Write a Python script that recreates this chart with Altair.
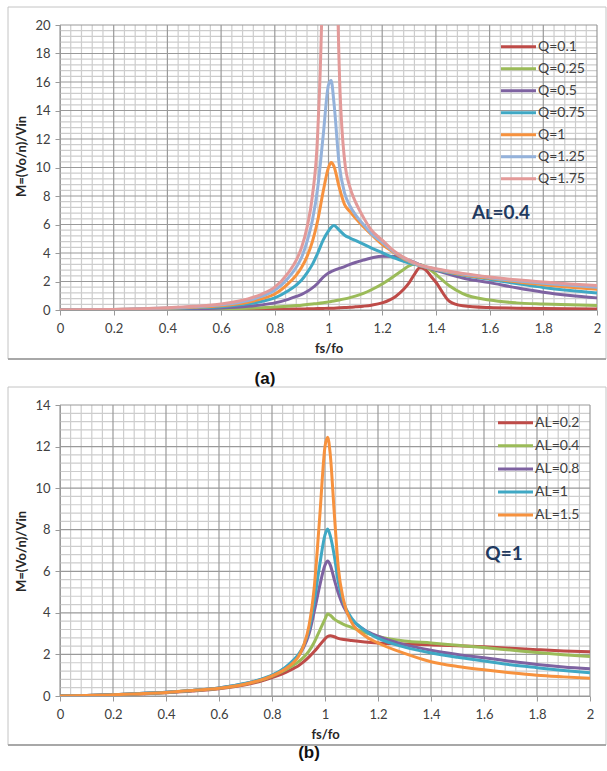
import altair as alt
import pandas as pd

# ---------------- panel (a): AL = 0.4, several Q ----------------
fa = [0, 0.1, 0.2, 0.3, 0.4, 0.5, 0.6, 0.7, 0.75, 0.8, 0.85, 0.88, 0.9, 0.92, 0.94,
      0.96, 0.98, 1.0, 1.01, 1.02, 1.04, 1.06, 1.08, 1.1, 1.13, 1.16, 1.2, 1.25,
      1.28, 1.3, 1.32, 1.34, 1.36, 1.38, 1.4, 1.45, 1.5, 1.6, 1.7, 1.8, 1.9, 2.0]

q_labels = ["Q=0.1", "Q=0.25", "Q=0.5", "Q=0.75", "Q=1", "Q=1.25", "Q=1.75"]
q_colors = ["#BE4B48", "#9BBB59", "#7E62A1", "#3FA8C4", "#F7923E", "#94B2DB", "#E39A99"]

m_q010 = [0, 0, 0, 0.01, 0.01, 0.02, 0.02, 0.03, 0.04, 0.05, 0.06, 0.07, 0.07, 0.08, 0.09,
          0.1, 0.11, 0.12, 0.12, 0.13, 0.15, 0.17, 0.19, 0.22, 0.27, 0.34, 0.5, 0.95,
          1.45, 1.9, 2.5, 2.97, 2.85, 2.4, 1.95, 0.62, 0.3, 0.17, 0.13, 0.1, 0.08, 0.07]
m_q025 = [0, 0, 0.005, 0.01, 0.02, 0.04, 0.07, 0.12, 0.16, 0.21, 0.27, 0.31, 0.34, 0.38, 0.42,
          0.46, 0.51, 0.57, 0.6, 0.63, 0.7, 0.78, 0.87, 0.97, 1.17, 1.42, 1.82, 2.45,
          2.85, 3.1, 3.22, 3.2, 3.05, 2.8, 2.5, 1.7, 1.15, 0.7, 0.5, 0.42, 0.36, 0.32]
m_q050 = [0, 0.003, 0.01, 0.03, 0.05, 0.08, 0.14, 0.26, 0.36, 0.5, 0.75, 0.95, 1.1, 1.3, 1.55,
          1.88, 2.3, 2.6, 2.7, 2.78, 2.92, 3.05, 3.2, 3.33, 3.5, 3.65, 3.78, 3.76,
          3.62, 3.5, 3.35, 3.18, 3.02, 2.9, 2.78, 2.5, 2.25, 1.92, 1.56, 1.25, 1.02, 0.85]
m_q075 = [0, 0.005, 0.02, 0.05, 0.09, 0.15, 0.23, 0.43, 0.6, 0.85, 1.35, 1.75, 2.1, 2.6, 3.2,
          4.0, 4.9, 5.55, 5.8, 5.93, 5.6, 5.25, 5.05, 4.88, 4.62, 4.35, 4.02, 3.62,
          3.42, 3.3, 3.2, 3.1, 3.0, 2.92, 2.83, 2.62, 2.44, 2.15, 1.86, 1.58, 1.37, 1.2]
m_q100 = [0, 0.01, 0.03, 0.07, 0.12, 0.19, 0.3, 0.55, 0.78, 1.12, 1.85, 2.45, 3.0, 3.75, 4.8,
          6.3, 8.3, 10.0, 10.35, 10.1, 8.6, 7.4, 6.9, 6.45, 5.85, 5.3, 4.6, 3.95,
          3.6, 3.42, 3.25, 3.12, 3.02, 2.93, 2.85, 2.65, 2.48, 2.22, 1.98, 1.77, 1.6, 1.45]
m_q125 = [0, 0.01, 0.035, 0.08, 0.14, 0.23, 0.36, 0.66, 0.95, 1.38, 2.25, 3.0, 3.7, 4.8, 6.3,
          8.6, 12.2, 15.8, 16.1, 14.6, 10.2, 8.2, 7.3, 6.7, 6.0, 5.35, 4.75, 4.0,
          3.65, 3.45, 3.28, 3.14, 3.04, 2.95, 2.87, 2.68, 2.52, 2.27, 2.06, 1.88, 1.73, 1.6]
m_q175 = [0, 0.01, 0.04, 0.09, 0.16, 0.26, 0.42, 0.78, 1.1, 1.6, 2.6, 3.5, 4.4, 5.8, 8.0,
          12.5, 26.0, 90.0, 90.0, 45.0, 17.0, 10.5, 8.6, 7.6, 6.5, 5.6, 4.9, 4.05,
          3.7, 3.5, 3.32, 3.17, 3.06, 2.98, 2.9, 2.72, 2.57, 2.32, 2.12, 1.96, 1.83, 1.72]

series_a = [m_q010, m_q025, m_q050, m_q075, m_q100, m_q125, m_q175]

# ---------------- panel (b): Q = 1, several AL ----------------
fb = [0, 0.1, 0.2, 0.3, 0.4, 0.5, 0.6, 0.7, 0.75, 0.8, 0.85, 0.88, 0.9, 0.92, 0.94, 0.96,
      0.98, 1.0, 1.01, 1.02, 1.035, 1.05, 1.07, 1.1, 1.15, 1.2, 1.3, 1.4, 1.5, 1.6,
      1.7, 1.8, 1.9, 2.0]

al_labels = ["AL=0.2", "AL=0.4", "AL=0.8", "AL=1", "AL=1.5"]
al_colors = ["#BE4B48", "#9BBB59", "#7E62A1", "#3FA8C4", "#F7923E"]

m_al02 = [0, 0.02, 0.06, 0.1, 0.16, 0.24, 0.35, 0.54, 0.68, 0.88, 1.13, 1.32, 1.46, 1.65, 1.88,
          2.15, 2.45, 2.75, 2.86, 2.9, 2.85, 2.77, 2.72, 2.67, 2.6, 2.55, 2.5, 2.46,
          2.42, 2.37, 2.3, 2.23, 2.17, 2.13]
m_al04 = [0, 0.02, 0.06, 0.11, 0.17, 0.26, 0.37, 0.58, 0.73, 0.95, 1.25, 1.48, 1.65, 1.87, 2.17,
          2.6, 3.15, 3.7, 3.94, 3.88, 3.7, 3.58, 3.45, 3.3, 3.05, 2.87, 2.65, 2.55,
          2.44, 2.33, 2.21, 2.09, 1.99, 1.9]
m_al08 = [0, 0.02, 0.06, 0.12, 0.18, 0.27, 0.39, 0.6, 0.76, 0.98, 1.35, 1.67, 1.95, 2.35, 3.0,
          4.1, 5.3, 6.3, 6.5, 6.3, 5.6, 4.95, 4.3, 3.7, 3.18, 2.88, 2.47, 2.2,
          2.0, 1.84, 1.67, 1.52, 1.4, 1.31]
m_al10 = [0, 0.02, 0.06, 0.12, 0.18, 0.27, 0.39, 0.61, 0.77, 1.0, 1.38, 1.72, 2.0, 2.45, 3.2,
          4.6, 6.3, 7.75, 8.03, 7.7, 6.75, 5.5, 4.5, 3.75, 3.15, 2.78, 2.35, 2.07,
          1.86, 1.68, 1.5, 1.36, 1.23, 1.12]
m_al15 = [0, 0.02, 0.06, 0.11, 0.17, 0.26, 0.37, 0.58, 0.74, 0.97, 1.3, 1.6, 1.9, 2.45, 3.4,
          5.3, 8.6, 12.0, 12.45, 11.6, 8.8, 6.2, 4.6, 3.55, 2.9, 2.55, 2.05, 1.65,
          1.42, 1.26, 1.12, 1.0, 0.92, 0.85]

series_b = [m_al02, m_al04, m_al08, m_al10, m_al15]

# axis tick positions
x_ticks = [0, 0.2, 0.4, 0.6, 0.8, 1, 1.2, 1.4, 1.6, 1.8, 2]
ya_ticks = [0, 2, 4, 6, 8, 10, 12, 14, 16, 18, 20]
yb_ticks = [0, 2, 4, 6, 8, 10, 12, 14]
x_minor = [round(0.04 * i, 2) for i in range(51) if i % 5]
ya_minor = [round(0.4 * i, 1) for i in range(51) if i % 5]
yb_minor = [round(0.4 * i, 1) for i in range(36) if i % 5]

FONT = "Lato"
LABEL_COLOR = "#404040"
MAJOR = "#9a9a9a"
MINOR = "#cdcdcd"


def long_table(freqs, labels, columns):
    rows = []
    for k, (lab, vals) in enumerate(zip(labels, columns)):
        for f, m in zip(freqs, vals):
            rows.append({"fs": f, "M": m, "series": lab, "k": k})
    return pd.DataFrame(rows)


def panel(df, labels, colors, ymax, yticks, yminor, W, H, legend_y0, legend_dy,
          legend_x, note, note_xy, caption, caption_xy, ytitle_y):
    xs = alt.Scale(domain=[0, 2], nice=False, zero=False)
    ys = alt.Scale(domain=[0, ymax], nice=False)
    cs = alt.Scale(domain=labels, range=colors)

    ax_x = alt.Axis(
        values=x_ticks, format="~g", grid=False, tickSize=5,
        tickColor=MAJOR, domainColor=MAJOR, labelFont=FONT, labelFontSize=13,
        labelColor=LABEL_COLOR, labelPadding=7, labelFlush=False,
        labelOverlap=False, title="fs/fo", titleFont=FONT, titleFontSize=13,
        titleFontWeight="bold", titleColor="#262626", titleY=38,
        titleBaseline="middle")
    ax_y = alt.Axis(
        values=yticks, grid=False, tickSize=5, tickColor=MAJOR,
        domainColor=MAJOR, labelFont=FONT, labelFontSize=13,
        labelColor=LABEL_COLOR, labelPadding=5, labelOverlap=False,
        title="M=(Vo/n)/Vin", titleFont=FONT, titleFontSize=13,
        titleFontWeight="bold", titleColor="#262626", titleX=-39,
        titleY=ytitle_y, titleAlign="center", titleBaseline="middle")

    # minor and major grid, drawn as rules underneath the curves
    minor_v = alt.Chart(pd.DataFrame({"v": x_minor})).mark_rule(
        color=MINOR, strokeWidth=1.2).encode(
        x=alt.X("v:Q", scale=xs, axis=ax_x), y=alt.value(0), y2=alt.value(H))
    minor_h = alt.Chart(pd.DataFrame({"v": yminor})).mark_rule(
        color=MINOR, strokeWidth=1.2).encode(
        y=alt.Y("v:Q", scale=ys, axis=ax_y), x=alt.value(0), x2=alt.value(W))
    major_v = alt.Chart(pd.DataFrame({"v": x_ticks})).mark_rule(
        color=MAJOR, strokeWidth=1.2).encode(
        x=alt.X("v:Q", scale=xs, axis=ax_x), y=alt.value(0), y2=alt.value(H))
    major_h = alt.Chart(pd.DataFrame({"v": yticks})).mark_rule(
        color=MAJOR, strokeWidth=1.2).encode(
        y=alt.Y("v:Q", scale=ys, axis=ax_y), x=alt.value(0), x2=alt.value(W))

    lines = alt.Chart(df).mark_line(
        strokeWidth=3, clip=True, interpolate="monotone").encode(
        x=alt.X("fs:Q", scale=xs, axis=ax_x),
        y=alt.Y("M:Q", scale=ys, axis=ax_y),
        color=alt.Color("series:N", scale=cs, legend=None),
        detail="k:N")

    leg_df = pd.DataFrame({"series": labels, "i": list(range(len(labels)))})
    leg_base = alt.Chart(leg_df).transform_calculate(
        py=f"{legend_y0} + {legend_dy} * datum.i")
    leg_lines = leg_base.mark_rule(strokeWidth=3).encode(
        x=alt.value(legend_x), x2=alt.value(legend_x + 35),
        y=alt.Y("py:Q", scale=None),
        color=alt.Color("series:N", scale=cs, legend=None))
    leg_text = leg_base.mark_text(
        align="left", baseline="middle", font=FONT, fontSize=14,
        color=LABEL_COLOR).encode(
        x=alt.value(legend_x + 37), y=alt.Y("py:Q", scale=None), text="series:N")

    note_mark = alt.Chart(pd.DataFrame({"t": [note]})).mark_text(
        font=FONT, fontSize=19, fontWeight="bold", color="#1F3A5F",
        align="center", baseline="middle").encode(
        text="t:N", x=alt.value(note_xy[0]), y=alt.value(note_xy[1]))

    # chart-area frame with a darker bottom edge
    frame = alt.Chart(pd.DataFrame({"a": [0]})).mark_rect(
        fill="white", fillOpacity=0, stroke="#c4c4c4", strokeWidth=1).encode(
        x=alt.value(-52), x2=alt.value(546),
        y=alt.value(-18), y2=alt.value(H + 49))
    shadow = alt.Chart(pd.DataFrame({"a": [0]})).mark_rule(
        color="#a8a8a8", strokeWidth=2).encode(
        x=alt.value(-52), x2=alt.value(546), y=alt.value(H + 49))

    cap = alt.Chart(pd.DataFrame({"t": [caption]})).mark_text(
        font="Liberation Sans", fontSize=17, fontWeight="bold", color="#111111",
        align="center", baseline="middle").encode(
        text="t:N", x=alt.value(caption_xy[0]), y=alt.value(caption_xy[1]))

    return alt.layer(
        minor_v, minor_h, major_v, major_h, lines,
        leg_lines, leg_text, note_mark, frame, shadow, cap
    ).properties(width=W, height=H)


df_a = long_table(fa, q_labels, series_a)
df_b = long_table(fb, al_labels, series_b)

top = panel(df_a, q_labels, q_colors, 20, ya_ticks, ya_minor, 537, 285,
            21.7, 22, 441, "A\u029f=0.4", (441, 188), "(a)", (205, 354), 131)
bottom = panel(df_b, al_labels, al_colors, 14, yb_ticks, yb_minor, 530, 291,
               17.7, 23.1, 438, "Q=1", (444, 149), "(b)", (249, 348), 146)

chart = alt.vconcat(top, bottom, spacing=95, bounds="flush").properties(
    padding={"left": 7, "top": 6, "right": 0, "bottom": 0}
).configure_view(stroke=None)

chart.save("out.html", embed_options={"renderer": "svg", "actions": False})
